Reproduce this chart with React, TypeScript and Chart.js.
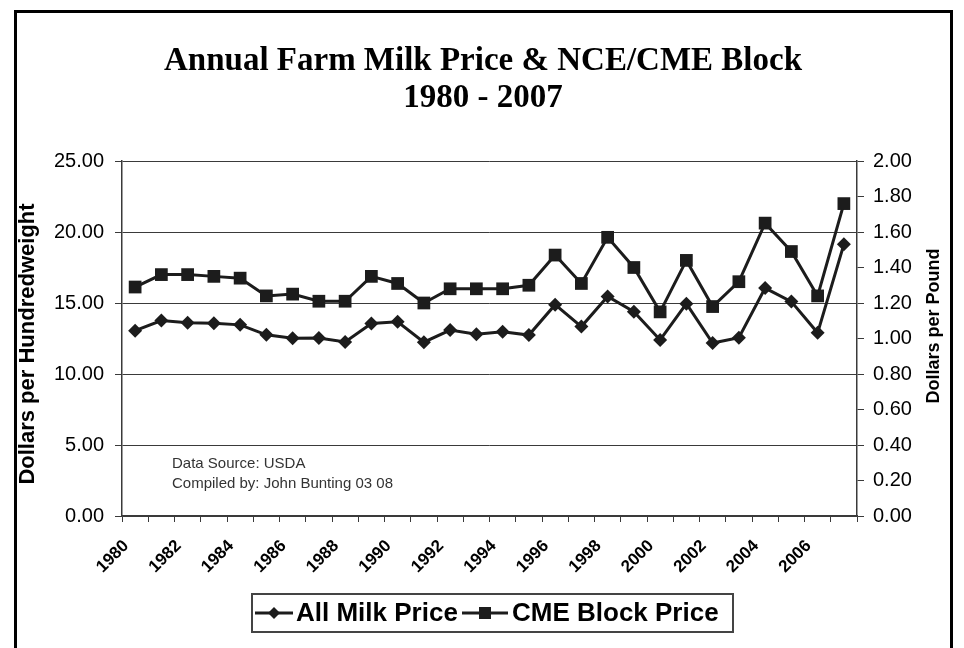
import React, { useEffect, useRef } from "react";
import { Chart, registerables } from "chart.js";

Chart.register(...registerables);

const years: string[] = [
  "1980", "1981", "1982", "1983", "1984", "1985", "1986", "1987", "1988", "1989",
  "1990", "1991", "1992", "1993", "1994", "1995", "1996", "1997", "1998", "1999",
  "2000", "2001", "2002", "2003", "2004", "2005", "2006", "2007",
];

// Dollars per hundredweight
const allMilkPrice: number[] = [
  13.05, 13.76, 13.61, 13.58, 13.46, 12.76, 12.51, 12.54, 12.26, 13.56,
  13.68, 12.24, 13.09, 12.80, 12.97, 12.74, 14.88, 13.34, 15.46, 14.38,
  12.40, 14.95, 12.18, 12.55, 16.05, 15.10, 12.90, 19.13,
];

// Dollars per pound
const cmeBlockPrice: number[] = [
  1.29, 1.36, 1.36, 1.35, 1.34, 1.24, 1.25, 1.21, 1.21, 1.35,
  1.31, 1.20, 1.28, 1.28, 1.28, 1.30, 1.47, 1.31, 1.57, 1.40,
  1.15, 1.44, 1.18, 1.32, 1.65, 1.49, 1.24, 1.76,
];

const leftTicks = { min: 0, max: 25, step: 5 };
const rightTicks = { min: 0, max: 2, step: 0.2 };

const titleLines = ["Annual Farm Milk Price & NCE/CME Block", "1980 - 2007"];
const leftAxisTitle = "Dollars per Hundredweight";
const rightAxisTitle = "Dollars per Pound";
const sourceLines = ["Data Source: USDA", "Compiled by: John Bunting 03 08"];
const seriesNames = ["All Milk Price", "CME Block Price"];

const INK = "#1c1c1c";
const AXIS = "#3a3a3a";
const SANS = "Arial, 'Liberation Sans', sans-serif";

const decorPlugin = {
  id: "decor",
  afterDraw(chart: any) {
    const ctx = chart.ctx as CanvasRenderingContext2D;
    ctx.save();
    // Title
    ctx.fillStyle = "#000";
    ctx.textAlign = "center";
    ctx.textBaseline = "middle";
    ctx.font = "bold 33px 'Liberation Serif', serif";
    ctx.fillText(titleLines[0], 483, 61);
    ctx.fillText(titleLines[1], 483, 98);

    // Axis titles
    ctx.font = `bold 22px ${SANS}`;
    ctx.save();
    ctx.translate(28, 344);
    ctx.rotate(-Math.PI / 2);
    ctx.fillText(leftAxisTitle, 0, 0);
    ctx.restore();
    ctx.font = `bold 18px ${SANS}`;
    ctx.save();
    ctx.translate(934, 326);
    ctx.rotate(-Math.PI / 2);
    ctx.fillText(rightAxisTitle, 0, 0);
    ctx.restore();

    // Source note
    ctx.font = `15px ${SANS}`;
    ctx.fillStyle = "#333";
    ctx.textAlign = "left";
    ctx.fillText(sourceLines[0], 172, 464);
    ctx.fillText(sourceLines[1], 172, 484);

    // Legend
    const bx = 252, by = 594, bw = 481, bh = 38;
    ctx.strokeStyle = "#444";
    ctx.lineWidth = 2;
    ctx.strokeRect(bx, by, bw, bh);
    const cy = by + bh / 2;
    ctx.strokeStyle = INK;
    ctx.fillStyle = INK;
    ctx.lineWidth = 3;
    // item 1
    ctx.beginPath();
    ctx.moveTo(255, cy);
    ctx.lineTo(293, cy);
    ctx.stroke();
    ctx.beginPath();
    ctx.moveTo(274, cy - 6);
    ctx.lineTo(280, cy);
    ctx.lineTo(274, cy + 6);
    ctx.lineTo(268, cy);
    ctx.closePath();
    ctx.fill();
    // item 2
    ctx.beginPath();
    ctx.moveTo(462, cy);
    ctx.lineTo(508, cy);
    ctx.stroke();
    ctx.fillRect(479, cy - 6, 12, 12);
    ctx.font = `bold 26px ${SANS}`;
    ctx.fillStyle = "#000";
    ctx.textAlign = "left";
    ctx.textBaseline = "middle";
    ctx.fillText(seriesNames[0], 296, cy + 1);
    ctx.fillText(seriesNames[1], 512, cy + 1);
    ctx.restore();
  },
};

export default function App() {
  const ref = useRef<HTMLCanvasElement | null>(null);

  useEffect(() => {
    if (!ref.current) return;
    const chart = new Chart(ref.current, {
      type: "line",
      data: {
        labels: years,
        datasets: [
          {
            label: seriesNames[0],
            data: allMilkPrice,
            yAxisID: "y",
            borderColor: INK,
            backgroundColor: INK,
            borderWidth: 3,
            pointStyle: "rectRot",
            pointRadius: 7,
            pointBorderWidth: 0,
            tension: 0,
          },
          {
            label: seriesNames[1],
            data: cmeBlockPrice,
            yAxisID: "y2",
            borderColor: INK,
            backgroundColor: INK,
            borderWidth: 3,
            pointStyle: "rect",
            pointRadius: 9,
            pointBorderWidth: 0,
            tension: 0,
          },
        ],
      },
      options: {
        animation: false,
        responsive: false,
        devicePixelRatio: 1,
        layout: { padding: { top: 161, left: 0, right: 0, bottom: 0 } },
        plugins: {
          legend: { display: false },
          title: { display: false },
          tooltip: { enabled: false },
        },
        scales: {
          x: {
            type: "category",
            offset: true,
            grid: {
              offset: true,
              drawOnChartArea: false,
              tickLength: 6,
              color: AXIS,
              lineWidth: 1,
            },
            border: { color: AXIS, width: 1.5 },
            ticks: {
              autoSkip: false,
              minRotation: 45,
              maxRotation: 45,
              padding: 14,
              labelOffset: -9,
              color: "#000",
              font: { family: SANS, size: 17, weight: "bold" },
              callback: (_v: any, i: number) => (i % 2 === 0 ? years[i] : ""),
            },
            afterFit: (s: any) => {
              s.height = 132;
            },
          },
          y: {
            position: "left",
            min: leftTicks.min,
            max: leftTicks.max,
            grid: { color: AXIS, lineWidth: 1, tickLength: 7 },
            border: { color: AXIS, width: 1.5 },
            ticks: {
              stepSize: leftTicks.step,
              padding: 11,
              color: "#000",
              font: { family: SANS, size: 20 },
              callback: (v: any) => Number(v).toFixed(2),
            },
            afterFit: (s: any) => {
              s.width = 122;
            },
          },
          y2: {
            position: "right",
            min: rightTicks.min,
            max: rightTicks.max,
            grid: { drawOnChartArea: false, color: AXIS, lineWidth: 1, tickLength: 7 },
            border: { color: AXIS, width: 1.5 },
            ticks: {
              stepSize: rightTicks.step,
              padding: 9,
              color: "#000",
              font: { family: SANS, size: 20 },
              callback: (v: any) => Number(v).toFixed(2),
            },
            afterFit: (s: any) => {
              s.width = 107;
            },
          },
        },
      } as any,
      plugins: [decorPlugin],
    });
    return () => chart.destroy();
  }, []);

  return (
    <div style={{ position: "absolute", left: 0, top: 0, width: 964, height: 648, background: "#fff", overflow: "hidden" }}>
      <div
        style={{
          position: "absolute",
          left: 14,
          top: 10,
          width: 939,
          height: 638,
          borderTop: "3px solid #000",
          borderLeft: "3px solid #000",
          borderRight: "3px solid #000",
          boxSizing: "border-box",
        }}
      />
      <canvas ref={ref} width={964} height={648} style={{ position: "absolute", left: 0, top: 0 }} />
    </div>
  );
}
